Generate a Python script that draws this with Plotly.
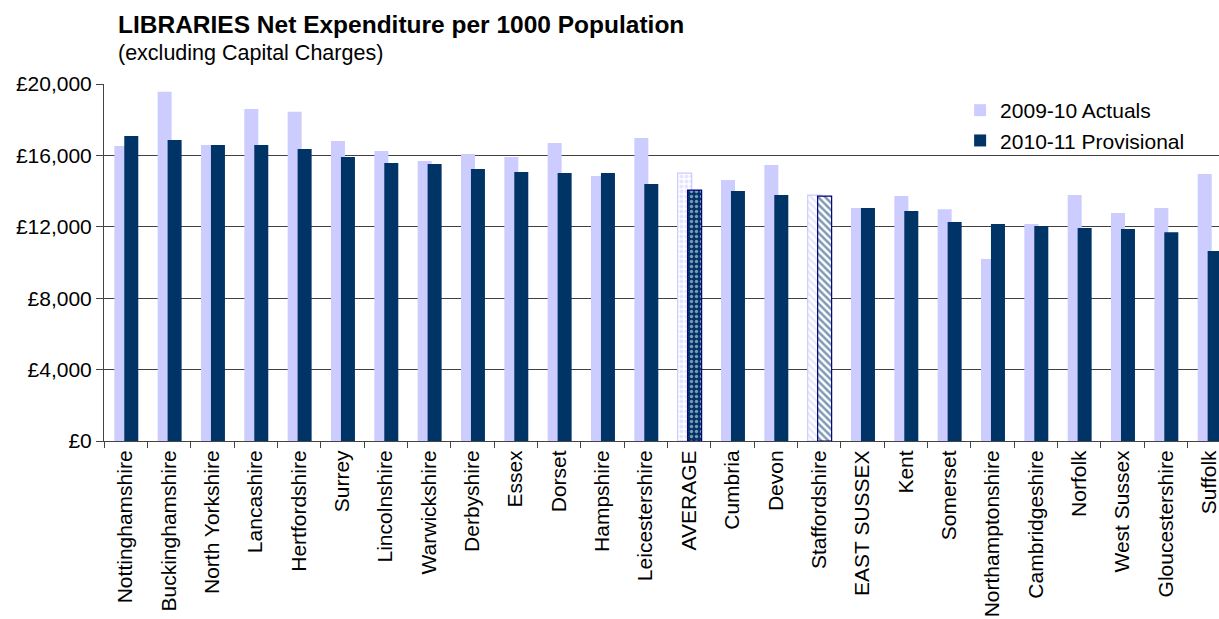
import plotly.graph_objects as go

# Library net expenditure per 1000 population, by county
categories = [
    "Nottinghamshire", "Buckinghamshire", "North Yorkshire", "Lancashire",
    "Hertfordshire", "Surrey", "Lincolnshire", "Warwickshire", "Derbyshire",
    "Essex", "Dorset", "Hampshire", "Leicestershire", "AVERAGE", "Cumbria",
    "Devon", "Staffordshire", "EAST SUSSEX", "Kent", "Somerset",
    "Northamptonshire", "Cambridgeshire", "Norfolk", "West Sussex",
    "Gloucestershire", "Suffolk",
]
actuals_2009_10 = [
    16530, 19560, 16580, 18600, 18440, 16810, 16250, 15690, 16080,
    15910, 16700, 14850, 16980, 15010, 14620, 15460, 13780, 13050,
    13720, 12990, 10190, 12150, 13780, 12770, 13050, 14960,
]
provisional_2010_11 = [
    17090, 16860, 16580, 16580, 16360, 15910, 15580, 15520, 15240,
    15070, 15010, 15010, 14400, 14060, 14000, 13780, 13720, 13050,
    12880, 12270, 12150, 12040, 11930, 11870, 11700, 10640,
]
y_ticks = [0, 4000, 8000, 12000, 16000, 20000]

LIGHT = "#CCCCFF"
DARK = "#003366"
NAVY = "#000080"
FONT = "Liberation Sans, Arial, sans-serif"
BAR_W = 0.323
OFFSETS = (-0.262, -0.032)

# Hatched fills for the highlighted entries: (shape, fg, bg, solidity) per series
special = {
    "AVERAGE": [(".", LIGHT, "white", 0.55), (".", "white", DARK, 0.35)],
    "Staffordshire": [("\\", LIGHT, "white", 0.45), ("\\", DARK, "white", 0.5)],
}

series = [
    ("2009-10 Actuals", actuals_2009_10, LIGHT, LIGHT, OFFSETS[0]),
    ("2010-11 Provisional", provisional_2010_11, DARK, NAVY, OFFSETS[1]),
]

fig = go.Figure()
for k, (name, values, color, edge, off) in enumerate(series):
    fig.add_trace(go.Bar(
        x=categories,
        y=[None if c in special else v for c, v in zip(categories, values)],
        name=name, legendgroup=name, width=BAR_W, offset=off,
        marker=dict(color=color, line=dict(width=0)),
    ))
    for c, v in zip(categories, values):
        if c not in special:
            continue
        shape, fg, bg, solid = special[c][k]
        fig.add_trace(go.Bar(
            x=[c], y=[v], name=name, legendgroup=name, showlegend=False,
            width=BAR_W, offset=off,
            marker=dict(color=bg, line=dict(width=1.2, color=edge),
                        pattern=dict(shape=shape, fgcolor=fg, bgcolor=bg,
                                     fillmode="overlay", size=5,
                                     solidity=solid)),
        ))

fig.update_layout(
    width=1219, height=619,
    margin=dict(l=103.5, r=0, t=84, b=178.3),
    barmode="overlay",
    plot_bgcolor="white", paper_bgcolor="white",
    font=dict(family=FONT, size=21, color="black"),
    showlegend=True,
    legend=dict(x=(960 - 103.5) / 1115.5, y=1 - (90 - 84) / 356.7,
                xanchor="left", yanchor="top",
                bgcolor="rgba(0,0,0,0)", font=dict(size=21),
                tracegroupgap=0),
    annotations=[
        dict(text="<b>LIBRARIES Net Expenditure per 1000 Population</b>",
             xref="paper", yref="paper", x=(116 - 103.5) / 1115.5,
             y=1 + (84 - 9) / 356.7, xanchor="left", yanchor="top",
             showarrow=False, font=dict(size=24.5)),
        dict(text="(excluding Capital Charges)",
             xref="paper", yref="paper", x=(116 - 103.5) / 1115.5,
             y=1 + (84 - 39) / 356.7, xanchor="left", yanchor="top",
             showarrow=False, font=dict(size=21.5)),
    ],
)
fig.update_xaxes(
    type="category", range=[-0.5, 25.23],
    showline=True, linecolor="#444", linewidth=1,
    ticks="outside", tickson="boundaries", ticklen=6, tickcolor="#444",
    tickangle=-90, tickfont=dict(size=21), showgrid=False,
)
fig.update_yaxes(
    range=[0, 20000], tickvals=y_ticks,
    ticktext=[f"£{v:,}" for v in y_ticks],
    showline=True, linecolor="#444", linewidth=1,
    ticks="outside", ticklen=7, tickcolor="#444",
    showgrid=True, gridcolor="#404040", gridwidth=1,
    zeroline=False, tickfont=dict(size=21),
)

fig.write_html("out.html")
